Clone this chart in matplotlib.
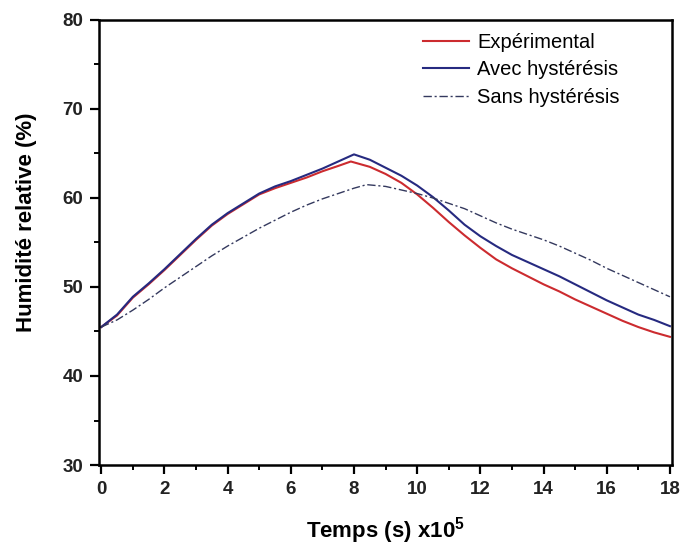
import matplotlib
matplotlib.use("Agg")
import matplotlib.pyplot as plt
from matplotlib.ticker import MultipleLocator

# Data (time in units of 1e5 s, relative humidity in %)
t_exp = [0, 0.5, 1, 1.5, 2, 2.5, 3, 3.5, 4, 4.5, 5, 5.5, 6, 6.5, 7, 7.5, 7.9,
         8.5, 9, 9.5, 10, 10.5, 11, 11.5, 12, 12.5, 13, 13.5, 14, 14.5, 15,
         15.5, 16, 16.5, 17, 17.5, 18]
rh_exp = [45.5, 46.8, 48.8, 50.3, 51.9, 53.6, 55.3, 56.9, 58.2, 59.3, 60.4, 61.1,
          61.7, 62.3, 63.0, 63.6, 64.1, 63.5, 62.7, 61.7, 60.4, 58.9, 57.3, 55.8,
          54.4, 53.1, 52.1, 51.2, 50.3, 49.5, 48.6, 47.8, 47.0, 46.2, 45.5, 44.9, 44.4]

t_avec = [0, 0.5, 1, 1.5, 2, 2.5, 3, 3.5, 4, 4.5, 5, 5.5, 6, 6.5, 7, 7.5, 8.0,
          8.5, 9, 9.5, 10, 10.5, 11, 11.5, 12, 12.5, 13, 13.5, 14, 14.5, 15,
          15.5, 16, 16.5, 17, 17.5, 18]
rh_avec = [45.5, 46.9, 48.9, 50.4, 52.0, 53.7, 55.4, 57.0, 58.3, 59.4, 60.5, 61.3,
           61.9, 62.6, 63.3, 64.1, 64.9, 64.3, 63.4, 62.5, 61.4, 60.1, 58.6, 57.0,
           55.7, 54.6, 53.6, 52.8, 52.0, 51.2, 50.3, 49.4, 48.5, 47.7, 46.9, 46.3, 45.6]

t_sans = [0, 0.5, 1, 1.5, 2, 2.5, 3, 3.5, 4, 4.5, 5, 5.5, 6, 6.5, 7, 7.5, 8, 8.4,
          9, 9.5, 10, 10.5, 11, 11.5, 12, 12.5, 13, 13.5, 14, 14.5, 15, 15.5, 16,
          16.5, 17, 17.5, 18]
rh_sans = [45.5, 46.3, 47.4, 48.6, 49.9, 51.1, 52.3, 53.5, 54.6, 55.6, 56.6, 57.5,
           58.4, 59.2, 59.9, 60.5, 61.1, 61.5, 61.3, 60.9, 60.5, 60.0, 59.4, 58.8,
           58.0, 57.2, 56.5, 55.9, 55.3, 54.6, 53.8, 53.0, 52.1, 51.3, 50.5, 49.7, 48.9]

labels = ["Expérimental", "Avec hystérésis", "Sans hystérésis"]
x_ticks = list(range(0, 19, 2))
y_ticks = [30, 40, 50, 60, 70, 80]

plt.rcParams['font.family'] = ['Liberation Sans', 'DejaVu Sans']
plt.rcParams['mathtext.fontset'] = 'custom'
plt.rcParams['mathtext.bf'] = 'Liberation Sans:bold'
plt.rcParams['mathtext.rm'] = 'Liberation Sans'

fig = plt.figure(figsize=(6.81, 5.49), dpi=100)
ax = fig.add_axes([0.1454, 0.153, 0.8416, 0.8106])

ax.plot(t_exp, rh_exp, color="#cc2b2f", lw=1.5, label=labels[0])
ax.plot(t_avec, rh_avec, color="#262a80", lw=1.5, label=labels[1])
ax.plot(t_sans, rh_sans, color="#34395e", lw=1.0, linestyle=(0, (6, 2, 1.5, 2)),
        label=labels[2])

ax.set_xlim(-0.07, 18.07)
ax.set_ylim(30, 80)
ax.set_xticks(x_ticks)
ax.set_yticks(y_ticks)
ax.xaxis.set_minor_locator(MultipleLocator(1))
ax.yaxis.set_minor_locator(MultipleLocator(5))

for s in ax.spines.values():
    s.set_linewidth(1.8)
ax.tick_params(which='major', direction='out', length=6.5, width=1.6, labelsize=13.5, pad=5)
ax.tick_params(which='minor', direction='out', length=3.5, width=1.4)
for lab in ax.get_xticklabels() + ax.get_yticklabels():
    lab.set_fontweight('bold')
    lab.set_color('#222222')

ax.set_xlabel("Temps (s) x10$^{\\mathbf{5}}$", fontsize=16, fontweight='bold', labelpad=12)
ax.set_ylabel("Humidité relative (%)", fontsize=16, fontweight='bold')
ax.yaxis.set_label_coords(-0.108, 0.546)

leg = ax.legend(loc='upper left', frameon=False, fontsize=14.5, handlelength=2.3,
                handletextpad=0.4, labelspacing=0.42, borderaxespad=0.0, borderpad=0.0,
                bbox_to_anchor=(423 / 681, 1 - 33 / 549), bbox_transform=fig.transFigure)

fig.savefig("out.png", dpi=100)
